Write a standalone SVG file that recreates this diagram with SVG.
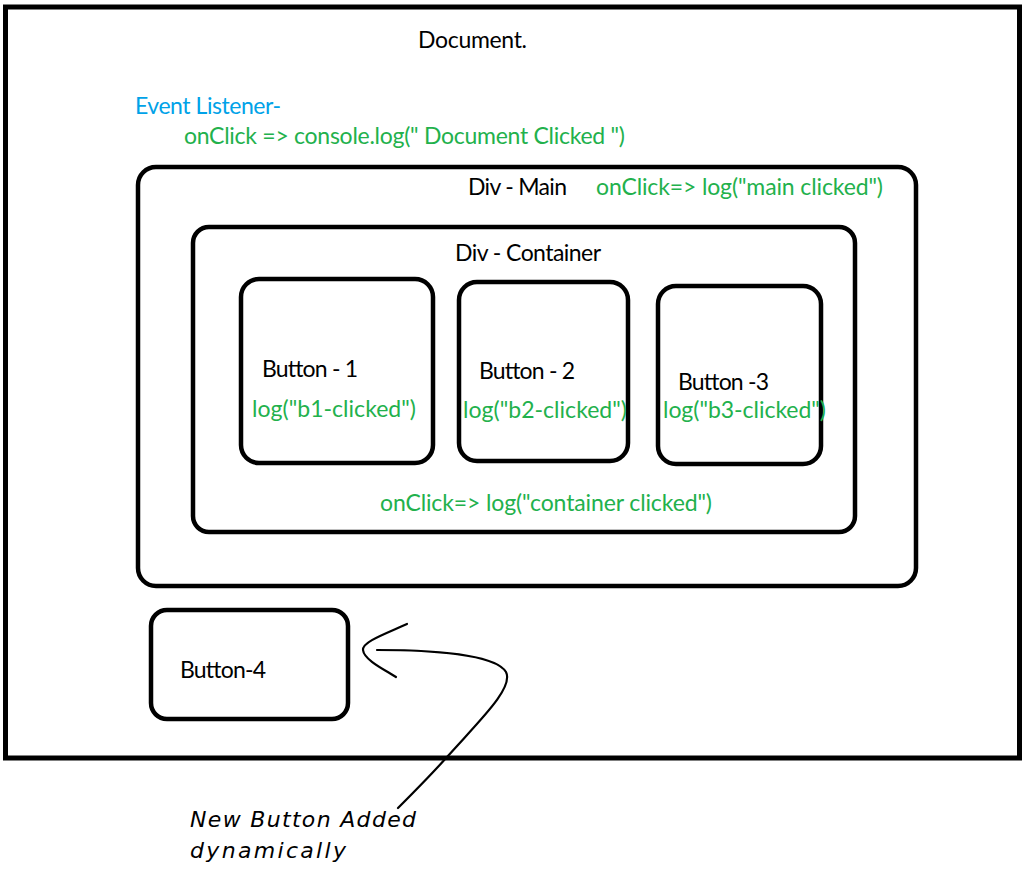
<svg xmlns="http://www.w3.org/2000/svg" width="1030" height="873" viewBox="0 0 1030 873">
<style>
.box{fill:none;stroke:#000;stroke-width:4.5}
.t{font-family:Lato,"Liberation Sans",sans-serif;font-size:23px;fill:#000}
.g{fill:#22b14c}
.b{fill:#00a2e8}
.h{font-family:"DejaVu Sans",cursive;font-style:italic;font-weight:200;font-size:22px;fill:#000}
.c{fill:none;stroke:#000;stroke-width:2.2;stroke-linecap:round;stroke-linejoin:round}
</style>
<rect width="1030" height="873" fill="#fff"/>
<g id="document">
<rect class="box" x="5.5" y="7" width="1014" height="751" style="stroke-width:5"/>
<text class="t" x="418" y="48" textLength="109">Document.</text>
<text class="t b" x="135" y="114" textLength="146">Event Listener-</text>
<text class="t g" x="184" y="144" textLength="441">onClick =&gt; console.log(" Document Clicked ")</text>
</g>
<g id="div-main">
<rect class="box" x="138" y="167" width="778" height="419" rx="18"/>
<text class="t" x="468" y="195" textLength="99">Div - Main</text>
<text class="t g" x="596" y="195" textLength="287">onClick=&gt; log("main clicked")</text>
</g>
<g id="div-container">
<rect class="box" x="193" y="227" width="662" height="305" rx="16"/>
<text class="t" x="455" y="261" textLength="146">Div - Container</text>
<text class="t g" x="380" y="511" textLength="332">onClick=&gt; log("container clicked")</text>
</g>
<g id="button-1">
<rect class="box" x="241" y="279" width="192" height="184" rx="18"/>
<text class="t" x="262" y="377" textLength="96">Button - 1</text>
<text class="t g" x="252" y="417" textLength="164">log("b1-clicked")</text>
</g>
<g id="button-2">
<rect class="box" x="459" y="282" width="169" height="179" rx="18"/>
<text class="t" x="479" y="379" textLength="96">Button - 2</text>
<text class="t g" x="463" y="418" textLength="164">log("b2-clicked")</text>
</g>
<g id="button-3">
<rect class="box" x="658" y="286" width="163" height="178" rx="18"/>
<text class="t" x="678" y="390" textLength="91">Button -3</text>
<text class="t g" x="663" y="418" textLength="163">log("b3-clicked")</text>
</g>
<g id="button-4">
<rect class="box" x="151" y="610" width="197" height="109" rx="16"/>
<text class="t" x="180" y="678" textLength="86">Button-4</text>
</g>
<g id="connectors">
<path class="c" d="M407 624 C 385 634, 362 642, 363 650 C 364 660, 385 670, 396 677"/>
<path class="c" d="M377 650 C 430 650, 495 654, 506 672 C 514 688, 480 720, 447 757 C 430 776, 412 794, 398 808"/>
</g>
<g id="note">
<text class="h" x="190" y="827" textLength="226">New Button Added</text>
<text class="h" x="190" y="858" textLength="156">dynamically</text>
</g>
</svg>
